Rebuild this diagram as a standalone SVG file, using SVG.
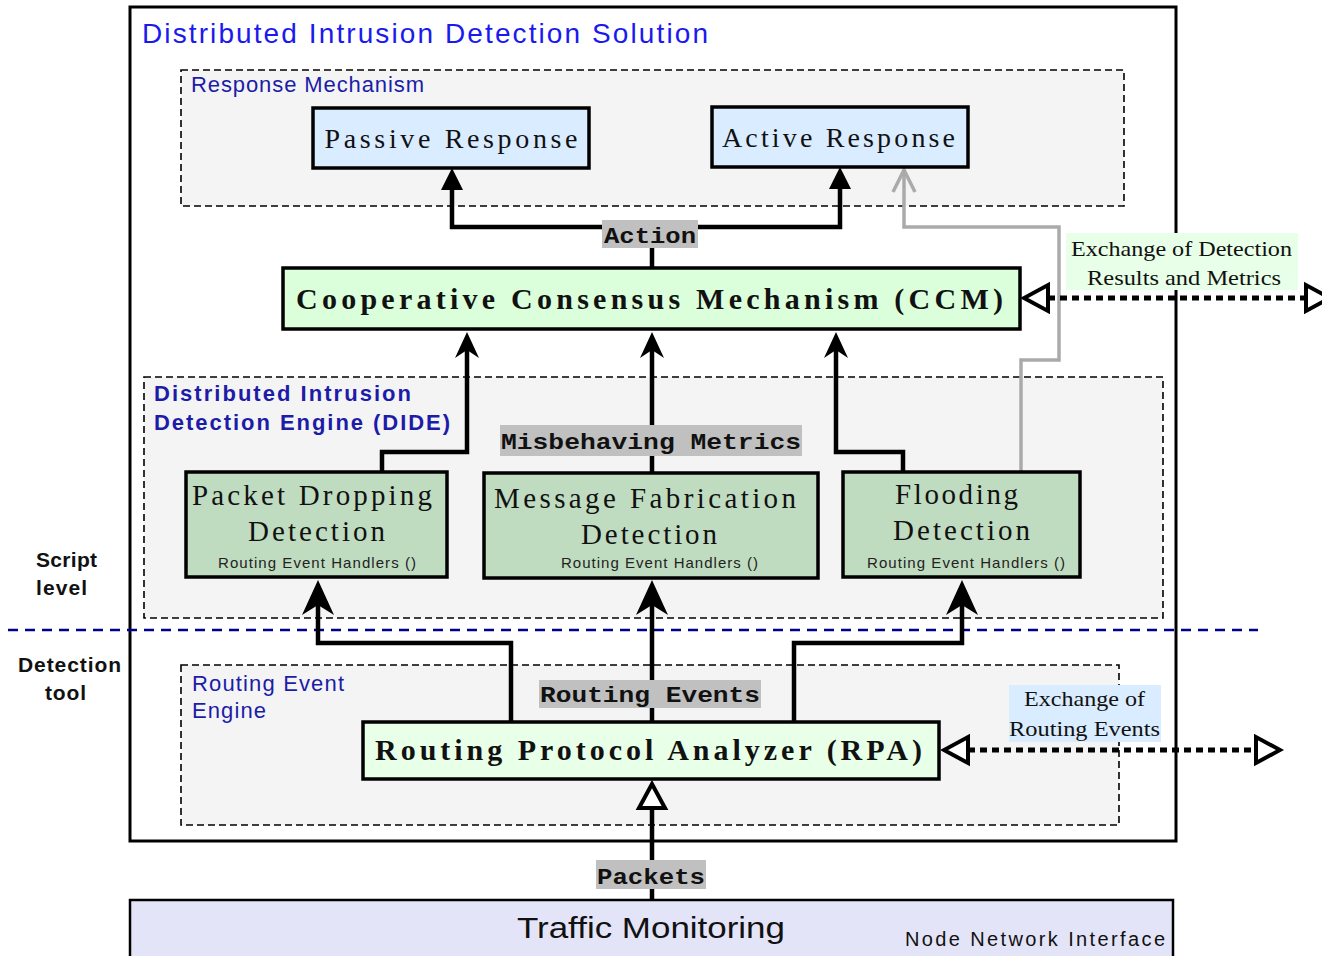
<svg xmlns="http://www.w3.org/2000/svg" width="1322" height="956" viewBox="0 0 1322 956">
<style>
.grp{fill:#f4f4f4;stroke:#000;stroke-width:1.6;stroke-dasharray:7,4}
.box{stroke:#000;stroke-width:3.5}
.resp{fill:#daecff}
.ccm{fill:#daffda}
.det{fill:#c0dcc0}
.rpa{fill:#e8ffe8}
.conn{fill:none;stroke:#000;stroke-width:4.5}
.gray{fill:none;stroke:#aaa;stroke-width:3.5}
.dot{fill:none;stroke:#000;stroke-width:5;stroke-dasharray:7,5}
.tag{fill:#c0c0c0}
.mono{font-family:"Liberation Mono","Courier New",monospace;font-weight:bold;font-size:22px;fill:#111}
.serif{font-family:"Liberation Serif","Times New Roman",serif;fill:#111}
.big{font-size:29px}
.bold{font-weight:bold;font-size:30px}
.small{font-family:"Liberation Sans",Arial,sans-serif;font-size:15px;fill:#222}
.grplbl{font-family:"Liberation Sans",Arial,sans-serif;font-size:22px;fill:#1c1ca8}
.side{font-family:"Liberation Sans",Arial,sans-serif;font-size:21px;font-weight:bold;fill:#111}
.xlbl{font-family:"Liberation Serif","Times New Roman",serif;font-size:21px;fill:#111}
</style>
<defs>
<marker id="tri" markerUnits="userSpaceOnUse" viewBox="-2 -13 26 26" markerWidth="26" markerHeight="26" refX="0" refY="0" orient="auto">
<path d="M22,0 L0,-11 L0,11 Z" fill="#000"/>
</marker>
<marker id="stealthS" markerUnits="userSpaceOnUse" viewBox="-10 -14 30 28" markerWidth="30" markerHeight="28" refX="0" refY="0" orient="auto">
<path d="M18,0 L-8,-12 L0,0 L-8,12 Z" fill="#000"/>
</marker>
<marker id="stealthL" markerUnits="userSpaceOnUse" viewBox="-12 -18 40 36" markerWidth="40" markerHeight="36" refX="0" refY="0" orient="auto">
<path d="M25,0 L-10,-16 L0,0 L-10,16 Z" fill="#000"/>
</marker>
<marker id="chev" markerUnits="userSpaceOnUse" viewBox="-26 -14 30 28" markerWidth="30" markerHeight="28" refX="0" refY="0" orient="auto">
<path d="M-22,-11 L0,0 L-22,11" fill="none" stroke="#aaa" stroke-width="3.5"/>
</marker>
<marker id="open" markerUnits="userSpaceOnUse" viewBox="-4 -17 32 34" markerWidth="32" markerHeight="34" refX="0" refY="0" orient="auto-start-reverse">
<path d="M24,0 L0,-13 L0,13 Z" fill="#fff" stroke="#000" stroke-width="4"/>
</marker>
</defs>

<g id="solution">
<rect x="130" y="7" width="1046" height="834" fill="#fff" stroke="#000" stroke-width="3"/>
<text x="142" y="43" font-family="Liberation Sans, Arial, sans-serif" font-size="28" fill="#1a1aee" textLength="566" lengthAdjust="spacing">Distributed Intrusion Detection Solution</text>
</g>

<g id="response-mechanism">
<rect class="grp" x="181" y="70" width="943" height="136"/>
<text class="grplbl" x="191" y="92" textLength="233" lengthAdjust="spacing">Response Mechanism</text>
</g>

<g id="dide">
<rect class="grp" x="144" y="377" width="1019" height="241"/>
<text class="grplbl" x="154" y="401" font-size="21" font-weight="bold" fill="#0a0a9a" textLength="257" lengthAdjust="spacing">Distributed Intrusion</text>
<text class="grplbl" x="154" y="430" font-size="21" font-weight="bold" fill="#0a0a9a" textLength="296" lengthAdjust="spacing">Detection Engine (DIDE)</text>
</g>

<g id="routing-event-engine">
<rect class="grp" x="181" y="665" width="938" height="160"/>
<text class="grplbl" x="192" y="691" textLength="152" lengthAdjust="spacing">Routing Event</text>
<text class="grplbl" x="192" y="718" textLength="74" lengthAdjust="spacing">Engine</text>
</g>

<g id="separator">
<line x1="8" y1="630" x2="1258" y2="630" stroke="#00008b" stroke-width="2.5" stroke-dasharray="10,7"/>
<text class="side" x="36" y="567" textLength="61" lengthAdjust="spacing">Script</text>
<text class="side" x="36" y="595" textLength="51" lengthAdjust="spacing">level</text>
<text class="side" x="69.5" y="672" text-anchor="middle" textLength="103" lengthAdjust="spacing">Detection</text>
<text class="side" x="65.5" y="700" text-anchor="middle" textLength="41" lengthAdjust="spacing">tool</text>
</g>

<g id="connectors">
<path class="conn" d="M652,268 L652,227 L452,227 L452,190" marker-end="url(#tri)"/>
<path class="conn" d="M652,227 L840,227 L840,189" marker-end="url(#tri)"/>
<path class="gray" d="M1021,472 L1021,360 L1059,360 L1059,227 L904,227 L904,170" marker-end="url(#chev)"/>
<path class="conn" d="M382,472 L382,452 L467,452 L467,350" marker-end="url(#stealthS)"/>
<path class="conn" d="M652,473 L652,350" marker-end="url(#stealthS)"/>
<path class="conn" d="M903,472 L903,452 L836,452 L836,350" marker-end="url(#stealthS)"/>
<path class="conn" d="M511,722 L511,643 L318,643 L318,605" marker-end="url(#stealthL)"/>
<path class="conn" d="M652,722 L652,605" marker-end="url(#stealthL)"/>
<path class="conn" d="M794,722 L794,643 L962,643 L962,605" marker-end="url(#stealthL)"/>
<path class="conn" d="M652,900 L652,808" marker-end="url(#open)"/>
<path class="dot" d="M1048,298 L1306,298" marker-start="url(#open)" marker-end="url(#open)"/>
<path class="dot" d="M968,750 L1256,750" marker-start="url(#open)" marker-end="url(#open)"/>
</g>

<g id="passive-response">
<rect class="box resp" x="313" y="108" width="276" height="60"/>
<text class="serif" x="451" y="148" font-size="28" text-anchor="middle" textLength="253" lengthAdjust="spacing">Passive Response</text>
</g>

<g id="active-response">
<rect class="box resp" x="712" y="107" width="256" height="60"/>
<text class="serif" x="838.5" y="147" font-size="28" text-anchor="middle" textLength="233" lengthAdjust="spacing">Active Response</text>
</g>

<g id="ccm">
<rect class="box ccm" x="283" y="268" width="737" height="61"/>
<text class="serif bold" x="649.5" y="309" text-anchor="middle" textLength="707" lengthAdjust="spacing">Cooperative Consensus Mechanism (CCM)</text>
</g>

<g id="packet-dropping">
<rect class="box det" x="186" y="472" width="261" height="105"/>
<text class="serif big" x="312" y="505" text-anchor="middle" textLength="240" lengthAdjust="spacing">Packet Dropping</text>
<text class="serif big" x="316.5" y="541" text-anchor="middle" textLength="137" lengthAdjust="spacing">Detection</text>
<text class="small" x="317" y="568" text-anchor="middle" textLength="198" lengthAdjust="spacing">Routing Event Handlers ()</text>
</g>

<g id="message-fabrication">
<rect class="box det" x="484" y="473" width="334" height="105"/>
<text class="serif big" x="645" y="508" text-anchor="middle" textLength="302" lengthAdjust="spacing">Message Fabrication</text>
<text class="serif big" x="649" y="544" text-anchor="middle" textLength="136" lengthAdjust="spacing">Detection</text>
<text class="small" x="659.5" y="568" text-anchor="middle" textLength="197" lengthAdjust="spacing">Routing Event Handlers ()</text>
</g>

<g id="flooding">
<rect class="box det" x="843" y="472" width="237" height="105"/>
<text class="serif big" x="956.5" y="504" text-anchor="middle" textLength="123" lengthAdjust="spacing">Flooding</text>
<text class="serif big" x="961.5" y="540" text-anchor="middle" textLength="137" lengthAdjust="spacing">Detection</text>
<text class="small" x="966" y="568" text-anchor="middle" textLength="198" lengthAdjust="spacing">Routing Event Handlers ()</text>
</g>

<g id="rpa">
<rect class="box rpa" x="363" y="722" width="576" height="57"/>
<text class="serif bold" x="648.5" y="760" text-anchor="middle" textLength="547" lengthAdjust="spacing">Routing Protocol Analyzer (RPA)</text>
</g>

<g id="traffic-monitoring">
<rect x="130" y="900" width="1043" height="70" fill="#e4e4f8" stroke="#000" stroke-width="2.5"/>
<text x="651" y="938" font-family="Liberation Sans, Arial, sans-serif" font-size="30" fill="#111" text-anchor="middle" textLength="268" lengthAdjust="spacingAndGlyphs">Traffic Monitoring</text>
<text x="905" y="946" font-family="Liberation Sans, Arial, sans-serif" font-size="20" fill="#111" textLength="260" lengthAdjust="spacing">Node Network Interface</text>
</g>

<g id="labels">
<rect class="tag" x="602" y="220" width="96" height="28"/>
<text class="mono" x="650" y="243" text-anchor="middle" textLength="92" lengthAdjust="spacingAndGlyphs">Action</text>
<rect class="tag" x="500" y="425" width="302" height="31"/>
<text class="mono" x="651" y="449" text-anchor="middle" textLength="300" lengthAdjust="spacingAndGlyphs">Misbehaving Metrics</text>
<rect class="tag" x="539" y="680" width="222" height="28"/>
<text class="mono" x="650" y="702" text-anchor="middle" textLength="220" lengthAdjust="spacingAndGlyphs">Routing Events</text>
<rect class="tag" x="596" y="860" width="110" height="29"/>
<text class="mono" x="651" y="884" text-anchor="middle" textLength="108" lengthAdjust="spacingAndGlyphs">Packets</text>
<rect x="1066" y="233" width="232" height="57" fill="#e8ffe8"/>
<text class="xlbl" x="1181.5" y="256" text-anchor="middle" textLength="221" lengthAdjust="spacingAndGlyphs">Exchange of Detection</text>
<text class="xlbl" x="1184" y="285" text-anchor="middle" textLength="194" lengthAdjust="spacingAndGlyphs">Results and Metrics</text>
<rect x="1009" y="685" width="152" height="57" fill="#daecff"/>
<text class="xlbl" x="1084.5" y="706" text-anchor="middle" textLength="121" lengthAdjust="spacingAndGlyphs">Exchange of</text>
<text class="xlbl" x="1084.5" y="736" text-anchor="middle" textLength="151" lengthAdjust="spacingAndGlyphs">Routing Events</text>
</g>
</svg>
